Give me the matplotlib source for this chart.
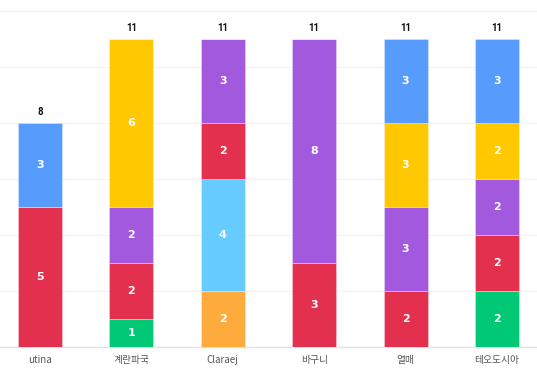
import numpy as np
import matplotlib.pyplot as plt

plt.rcParams['font.family'] = ['Noto Sans CJK KR', 'DejaVu Sans']

categories = ["utina", "계란파국", "Claraej", "바구니", "열매", "테오도시아"]

# stack order bottom -> top
green = [0, 1, 0, 0, 0, 2]
orange = [0, 0, 2, 0, 0, 0]
light_blue = [0, 0, 4, 0, 0, 0]
red = [5, 2, 2, 3, 2, 2]
purple = [0, 2, 3, 8, 3, 2]
yellow = [0, 6, 0, 0, 3, 2]
blue = [3, 0, 0, 0, 3, 3]

series = [green, orange, light_blue, red, purple, yellow, blue]
colors = ["#00C875", "#FDAB3D", "#66CCFF", "#E2304E", "#A259DD", "#FFC800", "#579BFC"]

fig = plt.figure(figsize=(5.37, 3.76), dpi=100)
ax = fig.add_axes([0, 29 / 376, 1, 336 / 376])

x = np.arange(len(categories))
bottom = np.zeros(len(categories))
for vals, col in zip(series, colors):
    vals = np.array(vals, dtype=float)
    ax.bar(x, vals, width=0.48, bottom=bottom, color=col,
           edgecolor=(1, 1, 1, 0.35), linewidth=0.6, zorder=3)
    for xi, v, b in zip(x, vals, bottom):
        if v > 0:
            ax.text(xi, b + v / 2, f"{int(v)}", ha="center", va="center",
                    color="white", fontsize=8, fontweight="bold",
                    family="DejaVu Sans", zorder=4)
    bottom += vals

for xi, t in zip(x, bottom):
    ax.text(xi, t + 0.2, f"{int(t)}", ha="center", va="bottom",
            color="#111111", fontsize=7, fontweight="bold", family="Roboto")

ax.set_xlim(-40 / 91.4, 537 / 91.4 - 40 / 91.4)
ax.set_ylim(0, 12)
ax.set_yticks(np.arange(0, 13, 2))
ax.yaxis.grid(True, color="#F2F2F4", linewidth=0.8, zorder=0)
ax.set_yticklabels([])
ax.tick_params(axis="y", length=0)
ax.set_xticks(x)
ax.set_xticklabels(categories, fontsize=7, color="#555555")
ax.tick_params(axis="x", length=0, pad=6)
for s in ["top", "right", "left"]:
    ax.spines[s].set_visible(False)
ax.spines["bottom"].set_color("#E3E3EA")
ax.spines["bottom"].set_linewidth(1)

fig.savefig("out.png", dpi=100)
